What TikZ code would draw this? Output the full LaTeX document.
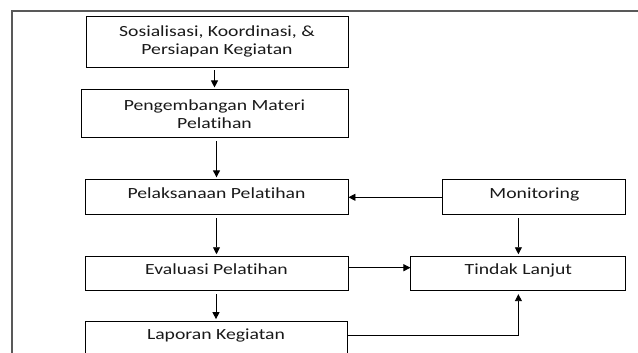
\documentclass[tikz,border=0pt]{standalone}
\usepackage{fontspec}
\setmainfont{Carlito}[FakeStretch=1.27,Ligatures=NoCommon]
\usetikzlibrary{positioning,arrows.meta}

\begin{document}
\begin{tikzpicture}[x=1pt,y=-1pt,
    box/.style={rectangle,draw,line width=0.9pt,align=center,minimum width=263pt,minimum height=34pt,
        inner sep=0pt,font=\fontsize{15.5}{18}\selectfont,text=black!90},
    oneline/.style={box,text height=10pt,text depth=8pt},
    arr/.style={-{Triangle[length=7pt,width=7pt]},line width=0.9pt,shorten <=3pt,shorten >=2pt},
    frame/.style={line width=1.1pt,black!65}]
        \useasboundingbox (0,0) rectangle (638,353);
        \draw[frame] (638,11) -- (12,11) -- (12,353);

        \node[box,minimum width=262pt,minimum height=51pt] (sos) at (217,41.5) {Sosialisasi, Koordinasi, \&\\Persiapan Kegiatan};
        \node[box,minimum width=267pt,minimum height=48pt] (mat) [below=22pt of sos,xshift=-2.5pt] {Pengembangan Materi\\Pelatihan};
        \node[oneline,minimum height=35pt] (pel) [below=41pt of mat,xshift=2pt] {Pelaksanaan Pelatihan};
        \node[oneline] (eva) [below=41pt of pel] {Evaluasi Pelatihan};
        \node[oneline,minimum width=262pt] (lap) [below=30pt of eva,xshift=-0.5pt] {Laporan Kegiatan};
        \node[oneline,minimum width=183pt,minimum height=35pt] (mon) [right=94pt of pel] {Monitoring};
        \node[oneline,minimum width=215pt] (tin) [right=62pt of eva] {Tindak Lanjut};

        \foreach \a/\b in {sos/mat,mat/pel,pel/eva,eva/lap,mon/tin}{
            \draw[arr] (\b.north |- \a.south) -- (\b.north);
        }
        \draw[arr,shorten <=0pt,shorten >=0pt] (mon) -- (pel);
        \draw[arr,shorten <=0pt,shorten >=0pt] ([yshift=6pt]eva.east) -- ([yshift=6pt]tin.west);
        \draw[arr,shorten <=0pt,shorten >=3pt] ([yshift=3pt]lap.east) -| (tin.south);
    \end{tikzpicture}
\end{document}
